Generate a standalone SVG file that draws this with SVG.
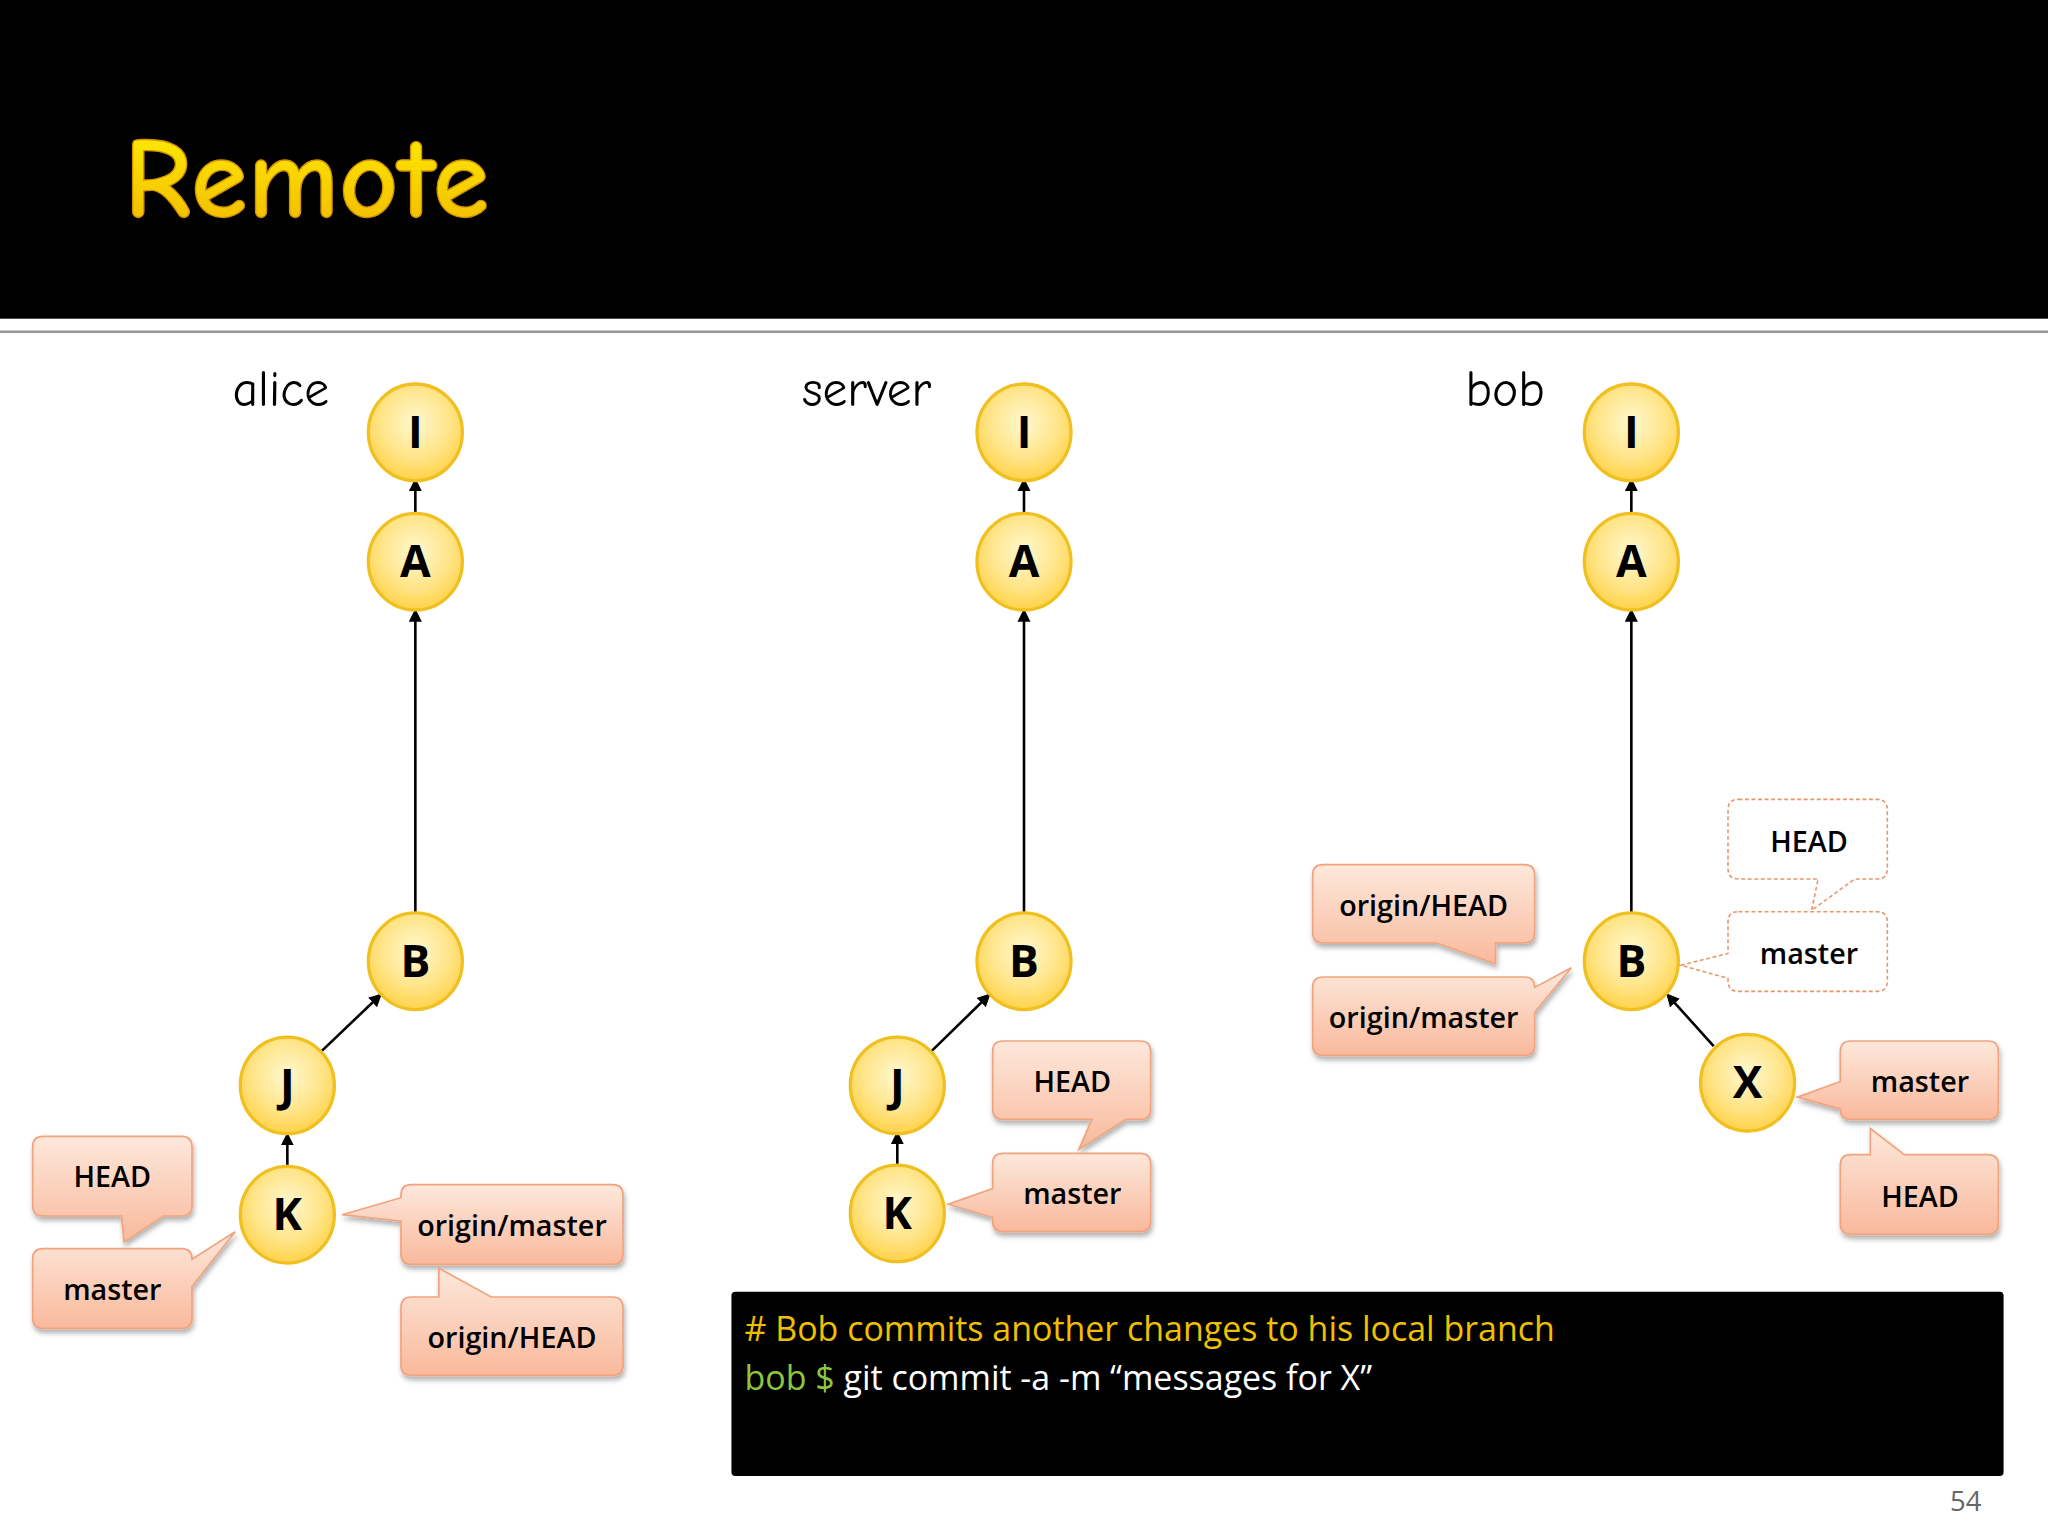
<svg xmlns="http://www.w3.org/2000/svg" width="2048" height="1536" viewBox="0 0 2048 1536">
<style>
.node ellipse{fill:url(#ng);stroke:#f0c020;stroke-width:2.5}
.node text{font-family:"Open Sans","Noto Sans",sans-serif;font-weight:700;font-size:34px;text-anchor:middle;fill:#000}
.co{fill:url(#cg);stroke:#f0a47e;stroke-width:1.3;filter:url(#sh)}
.cd{fill:#fff;stroke:#e8956a;stroke-width:1.2;stroke-dasharray:3 2}
.lt{font-family:"Open Sans","Noto Sans",sans-serif;font-weight:600;font-size:22px;text-anchor:middle;fill:#000}
.repo{font-family:"Comic Neue","DejaVu Sans",sans-serif;font-size:38px;fill:#000}
.edge{stroke:#000;stroke-width:2;fill:none;marker-end:url(#ar)}
</style>
<defs>
<radialGradient id="ng" cx="0.5" cy="0.4" r="0.6"><stop offset="0" stop-color="#fff8d0"/><stop offset="0.6" stop-color="#ffe58a"/><stop offset="1" stop-color="#ffd24a"/></radialGradient>
<linearGradient id="cg" x1="0" y1="0" x2="0" y2="1"><stop offset="0" stop-color="#fde8dc"/><stop offset="1" stop-color="#f9b99c"/></linearGradient>
<linearGradient id="tg" x1="0" y1="0" x2="0" y2="1"><stop offset="0" stop-color="#fff200"/><stop offset="1" stop-color="#f0b400"/></linearGradient>
<filter id="sh" x="-20%" y="-20%" width="140%" height="150%"><feDropShadow dx="1" dy="3" stdDeviation="2" flood-color="#000" flood-opacity="0.3"/></filter>
<marker id="ar" markerWidth="10" markerHeight="10" refX="8" refY="5" orient="auto" markerUnits="userSpaceOnUse"><path d="M0,0 L10,5 L0,10 Z" fill="#000"/></marker>
</defs>
<rect width="2048" height="1536" fill="#fff"/>
<g transform="scale(1.30612)">
<rect x="0" y="0" width="1568" height="244" fill="#000"/>
<rect x="0" y="253" width="1568" height="2" fill="#999"/>
<text x="95" y="166" font-family="'Comic Neue','DejaVu Sans',sans-serif" font-weight="700" font-size="88" fill="url(#tg)" stroke="#d09000" stroke-width="1">Remote</text>
<text class="repo" x="178" y="311">alice</text>
<text class="repo" x="614" y="311">server</text>
<text class="repo" x="1122" y="311">bob</text>

<g id="connectors">
<line class="edge" x1="318" y1="394" x2="318" y2="368"/>
<line class="edge" x1="318" y1="699" x2="318" y2="468"/>
<line class="edge" x1="246" y1="805" x2="291" y2="762"/>
<line class="edge" x1="220" y1="893" x2="220" y2="869"/>
<line class="edge" x1="784" y1="394" x2="784" y2="368"/>
<line class="edge" x1="784" y1="699" x2="784" y2="468"/>
<line class="edge" x1="713" y1="805" x2="757" y2="762"/>
<line class="edge" x1="687" y1="892" x2="687" y2="868"/>
<line class="edge" x1="1249" y1="394" x2="1249" y2="368"/>
<line class="edge" x1="1249" y1="699" x2="1249" y2="468"/>
<line class="edge" x1="1312" y1="801" x2="1277" y2="762"/>
</g>

<g id="alice-I" class="node"><ellipse cx="318" cy="331" rx="36" ry="37"/><text x="318" y="343">I</text></g>
<g id="alice-A" class="node"><ellipse cx="318" cy="430" rx="36" ry="37"/><text x="318" y="442">A</text></g>
<g id="alice-B" class="node"><ellipse cx="318" cy="736" rx="36" ry="37"/><text x="318" y="748">B</text></g>
<g id="alice-J" class="node"><ellipse cx="220" cy="831" rx="36" ry="37"/><text x="220" y="843">J</text></g>
<g id="alice-K" class="node"><ellipse cx="220" cy="930" rx="36" ry="37"/><text x="220" y="942">K</text></g>
<g id="server-I" class="node"><ellipse cx="784" cy="331" rx="36" ry="37"/><text x="784" y="343">I</text></g>
<g id="server-A" class="node"><ellipse cx="784" cy="430" rx="36" ry="37"/><text x="784" y="442">A</text></g>
<g id="server-B" class="node"><ellipse cx="784" cy="736" rx="36" ry="37"/><text x="784" y="748">B</text></g>
<g id="server-J" class="node"><ellipse cx="687" cy="831" rx="36" ry="37"/><text x="687" y="843">J</text></g>
<g id="server-K" class="node"><ellipse cx="687" cy="929" rx="36" ry="37"/><text x="687" y="941">K</text></g>
<g id="bob-I" class="node"><ellipse cx="1249" cy="331" rx="36" ry="37"/><text x="1249" y="343">I</text></g>
<g id="bob-A" class="node"><ellipse cx="1249" cy="430" rx="36" ry="37"/><text x="1249" y="442">A</text></g>
<g id="bob-B" class="node"><ellipse cx="1249" cy="736" rx="36" ry="37"/><text x="1249" y="748">B</text></g>
<g id="bob-X" class="node"><ellipse cx="1338" cy="829" rx="36" ry="37"/><text x="1338" y="841">X</text></g>

<g id="alice-head"><path class="co" d="M33,870 H139 Q147,870 147,878 V923 Q147,931 139,931 H125 L95,951 L93,931 H33 Q25,931 25,923 V878 Q25,870 33,870 Z"/><text class="lt" x="86" y="909">HEAD</text></g>
<g id="alice-master"><path class="co" d="M33,956 H139 Q147,956 147,964 L180,943 L147,985 V1009 Q147,1017 139,1017 H33 Q25,1017 25,1009 V964 Q25,956 33,956 Z"/><text class="lt" x="86" y="995">master</text></g>
<g id="alice-origin-master"><path class="co" d="M315,907 H469 Q477,907 477,915 V960 Q477,968 469,968 H315 Q307,968 307,960 V935 L262,930 L307,917 V915 Q307,907 315,907 Z"/><text class="lt" x="392" y="946">origin/master</text></g>
<g id="alice-origin-head"><path class="co" d="M315,993 H336 L336,971 L376,993 H469 Q477,993 477,1001 V1045 Q477,1053 469,1053 H315 Q307,1053 307,1045 V1001 Q307,993 315,993 Z"/><text class="lt" x="392" y="1032">origin/HEAD</text></g>
<g id="server-head"><path class="co" d="M768,797 H873 Q881,797 881,805 V849 Q881,857 873,857 H862 L826,880 L836,857 H768 Q760,857 760,849 V805 Q760,797 768,797 Z"/><text class="lt" x="821" y="836">HEAD</text></g>
<g id="server-master"><path class="co" d="M768,883 H873 Q881,883 881,891 V935 Q881,943 873,943 H768 Q760,943 760,935 V932 L726,922 L760,910 V891 Q760,883 768,883 Z"/><text class="lt" x="821" y="922">master</text></g>
<g id="bob-origin-head"><path class="co" d="M1013,662 H1167 Q1175,662 1175,670 V714 Q1175,722 1167,722 H1145 L1145,738 L1100,722 H1013 Q1005,722 1005,714 V670 Q1005,662 1013,662 Z"/><text class="lt" x="1090" y="701">origin/HEAD</text></g>
<g id="bob-origin-master"><path class="co" d="M1013,748 H1167 Q1175,748 1175,756 L1203,741 L1175,775 V800 Q1175,808 1167,808 H1013 Q1005,808 1005,800 V756 Q1005,748 1013,748 Z"/><text class="lt" x="1090" y="787">origin/master</text></g>
<g id="bob-old-head"><path class="cd" d="M1331,612 H1437 Q1445,612 1445,620 V665 Q1445,673 1437,673 H1420 L1387,697 L1392,673 H1331 Q1323,673 1323,665 V620 Q1323,612 1331,612 Z"/><text class="lt" x="1385" y="652">HEAD</text></g>
<g id="bob-old-master"><path class="cd" d="M1331,698 H1437 Q1445,698 1445,706 V751 Q1445,759 1437,759 H1331 Q1323,759 1323,751 V749 L1287,739 L1323,730 V706 Q1323,698 1331,698 Z"/><text class="lt" x="1385" y="738">master</text></g>
<g id="bob-master"><path class="co" d="M1417,797 H1522 Q1530,797 1530,805 V849 Q1530,857 1522,857 H1417 Q1409,857 1409,849 L1376,840 L1409,828 V805 Q1409,797 1417,797 Z"/><text class="lt" x="1470" y="836">master</text></g>
<g id="bob-head"><path class="co" d="M1417,884 H1432 L1432,864 L1458,884 H1522 Q1530,884 1530,892 V937 Q1530,945 1522,945 H1417 Q1409,945 1409,937 V892 Q1409,884 1417,884 Z"/><text class="lt" x="1470" y="924">HEAD</text></g>

<g id="terminal">
<rect x="560" y="989" width="974" height="141" rx="3" fill="#000"/>
<text x="570" y="1027" font-family="'Open Sans','Noto Sans',sans-serif" font-size="26" fill="#f0c000"># Bob commits another changes to his local branch</text>
<text x="570" y="1064" font-family="'Open Sans','Noto Sans',sans-serif" font-size="26" fill="#fff"><tspan fill="#8cc63f">bob $</tspan> git commit -a  -m “messages for X”</text>
</g>
<text x="1505" y="1157" font-family="'Open Sans','Noto Sans',sans-serif" font-size="21" fill="#666" text-anchor="middle">54</text>
</g>
</svg>
